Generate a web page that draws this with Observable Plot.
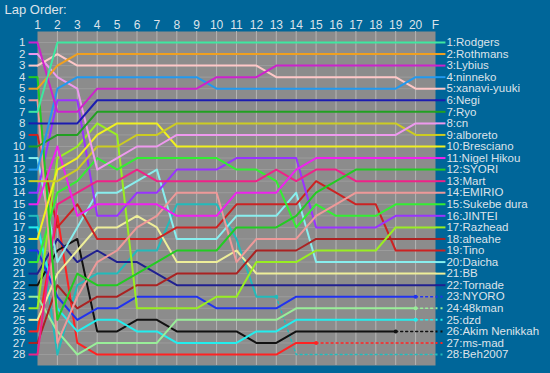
<!DOCTYPE html>
<html><head><meta charset="utf-8">
<script src="https://cdn.jsdelivr.net/npm/d3@7"></script>
<script src="https://cdn.jsdelivr.net/npm/@observablehq/plot@0.6"></script>
<style>html,body{margin:0;padding:0;background:#006699;overflow:hidden}</style>
</head><body><div id="chart"></div>
<script>
const lapLabels = ["1","2","3","4","5","6","7","8","9","10","11","12","13","14","15","16","17","18","19","20","F"];
const drivers = ["Rodgers","Rothmans","Lybius","ninneko","xanavi-yuuki","Negi","Ryo","cn","alboreto","Bresciano","Nigel Hikou","SYORI","Mart","EMIRIO","Sukebe dura","JINTEI","Razhead","aheahe","Tino","Daicha","BB","Tornade","NYORO","48kman","dzd","Akim Nenikkah","ms-mad","Beh2007"];
const colors = ["#3ee8a0","#f0a020","#cc22cc","#2299ee","#ffc8c8","#1c1cb0","#22a022","#ee99ee","#cccc22","#f0f020","#ee22ee","#22cc22","#ee2288","#ee9999","#33ee33","#9933ff","#99ee22","#aa2222","#cc2222","#88eeee","#eeee99","#202090","#2233ee","#99ee99","#22eeee","#111111","#ff2222","#22bbbb"];

const pRodgers  = [7,1,1,1,1,1,1,1,1,1,1,1,1,1,1,1,1,1,1,1,1];
const pRothmans = [5,3,2,2,2,2,2,2,2,2,2,2,2,2,2,2,2,2,2,2,2];
const pLybius   = [1,7,7,5,5,5,5,5,5,4,4,4,3,3,3,3,3,3,3,3,3];
const pNinneko  = [12,5,4,4,4,4,4,4,4,5,5,5,5,5,5,5,5,5,5,4,4];
const pXanavi   = [3,2,3,3,3,3,3,3,3,3,3,3,4,4,4,4,4,4,4,5,5];
const pNegi     = [8,8,8,6,6,6,6,6,6,6,6,6,6,6,6,6,6,6,6,6,6];
const pRyo      = [10,9,9,7,7,7,7,7,7,7,7,7,7,7,7,7,7,7,7,7,7];
const pCn       = [2,4,5,12,11,10,10,9,9,9,9,9,9,9,9,9,9,9,9,8,8];
const pAlboreto = [13,13,12,10,10,9,9,8,8,8,8,8,8,8,8,8,8,8,8,9,9];
const pBresciano= [18,12,11,9,8,8,8,10,10,10,10,10,10,10,10,10,10,10,10,10,10];
const pNigel    = [15,10,16,15,15,15,15,16,16,16,14,14,14,12,11,11,11,11,11,11,11];
const pSyori    = [4,25,21,22,22,21,20,19,19,19,17,17,17,16,14,13,12,12,12,12,12];
const pMart     = [28,15,14,13,13,12,13,13,13,13,13,13,12,13,12,12,13,13,13,13,13];
const pEmirio   = [6,27,23,20,19,17,16,14,14,14,20,18,18,18,16,15,14,14,14,14,14];
const pSukebe   = [20,14,13,11,12,11,11,11,11,11,12,12,13,17,15,16,16,16,15,15,15];
const pJintei   = [14,6,6,16,16,14,14,12,12,12,11,11,11,11,17,17,17,17,16,16,16];
const pRazhead  = [24,11,10,8,9,24,24,24,24,23,23,20,20,20,19,19,19,19,17,17,17];
const pAheahe   = [27,22,24,23,23,22,22,21,21,21,21,19,19,19,18,18,18,18,18,18,18];
const pTino     = [9,17,15,18,18,18,18,17,17,17,15,15,15,15,13,14,15,15,19,19,19];
const pDaicha   = [11,20,17,14,14,13,12,18,18,18,16,16,16,14,20,20,20,20,20,20,20];
const pBB       = [25,21,19,17,17,16,17,20,20,20,19,21,21,21,21,21,21,21,21,21,21];
const pTornade  = [21,18,20,19,20,20,21,22,22,22,22,22,22,22,22,22,22,22,22,22,22];
const pNyoro    = [19,23,25,24,24,23,23,23,23,24,24,24,24,23,23,23,23,23,23,23,23];
const p48kman   = [23,26,28,27,27,27,27,25,25,25,25,25,25,24,24,24,24,24,24,24,24];
const pDzd      = [17,24,26,25,25,26,26,27,27,27,27,26,26,25,25,25,25,25,25,25,25];
const pAkim     = [22,19,18,26,26,25,25,26,26,26,26,27,27,26,26,26,26,26,26,26,26];
const pMsmad    = [26,16,27,28,28,28,28,28,28,28,28,28,28,27,27,27,27,27,27,27,27];
const pBeh      = [16,28,22,21,21,19,19,15,15,15,18,23,23,28,28,28,28,28,28,28,28];
const lastLap   = [21,21,21,21,21,21,21,21,21,21,21,21,21,21,21,21,21,21,21,21,21,21,20,20,20,19,15,13];

const series = [pRodgers,pRothmans,pLybius,pNinneko,pXanavi,pNegi,pRyo,pCn,pAlboreto,pBresciano,pNigel,pSyori,pMart,pEmirio,pSukebe,pJintei,pRazhead,pAheahe,pTino,pDaicha,pBB,pTornade,pNyoro,p48kman,pDzd,pAkim,pMsmad,pBeh];

const txt = "#dde3ea";
const marks = [
  Plot.frame({fill:"#8c8c8c", stroke:null}),
  Plot.ruleY(d3.range(1,29), {stroke:"#9c9c9c", strokeWidth:1}),
  Plot.ruleX(d3.range(2,21), {stroke:"#b4b4b4", strokeWidth:1})
];
const order = d3.range(series.length).reverse();
for (const i of order) {
  const vals = series[i];
  const pts = vals.map((p,j)=>({lap:j+1, pos:p}));
  const solid = pts.filter(d=>d.lap<=lastLap[i]);
  const c = colors[i];
  marks.push(Plot.line(solid, {x:"lap", y:"pos", stroke:c, strokeWidth:2}));
  if (lastLap[i] < 21) {
    const dotted = pts.filter(d=>d.lap>=lastLap[i]);
    marks.push(Plot.line(dotted, {x:"lap", y:"pos", stroke:c, strokeWidth:1.5, strokeDasharray:"2,3"}));
    marks.push(Plot.dot([pts[lastLap[i]-1]], {x:"lap", y:"pos", fill:c, r:2}));
  }
  marks.push(Plot.link([{p:vals[0]}], {x1:0.55, x2:1, y1:"p", y2:"p", stroke:c, strokeWidth:2}));
  marks.push(Plot.link([{p:vals[20]}], {x1:21, x2:21.5, y1:"p", y2:"p", stroke:c, strokeWidth:2, strokeDasharray: lastLap[i]<21 ? "2,3" : null}));
  marks.push(Plot.text([{p:vals[20]}], {x:21.5, y:"p", text:()=>vals[20]+":"+drivers[i], textAnchor:"start", dx:1, fill:txt, fontSize:11.5}));
}
marks.push(Plot.axisX(d3.range(1,22), {anchor:"top", tickSize:0, tickPadding:3, tickFormat:d=>lapLabels[d-1], fontSize:12, color:txt, label:null}));
marks.push(Plot.axisY(d3.range(1,29), {anchor:"left", tickSize:0, tickPadding:12, fontSize:11.5, color:txt, label:null}));
marks.push(Plot.text(["Lap Order:"], {frameAnchor:"top-left", dx:-33, dy:-22, lineAnchor:"middle", textAnchor:"start", fill:txt, fontSize:13}));

const chart = Plot.plot({
  width:550, height:373,
  marginLeft:37, marginRight:115, marginTop:31, marginBottom:8,
  x:{domain:[1,21]},
  y:{domain:[28.95,0.05]},
  style:{background:"#006699", fontFamily:"'Liberation Sans', Arial, sans-serif", color:txt},
  marks
});
document.getElementById("chart").appendChild(chart);
</script></body></html>
